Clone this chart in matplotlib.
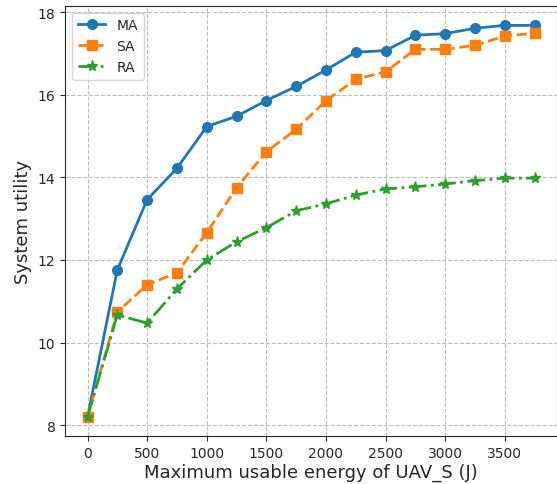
import numpy as np
import matplotlib
matplotlib.use('Agg')
import matplotlib.pyplot as plt

# Datos
energia = [0, 250, 500, 750, 1000, 1250, 1500, 1750, 2000, 2250, 2500, 2750, 3000, 3250, 3500, 3750]
ma = [8.2, 11.76, 13.46, 14.22, 15.23, 15.48, 15.86, 16.2, 16.6, 17.03, 17.07, 17.44, 17.48, 17.61, 17.68, 17.68]
sa = [8.2, 10.74, 11.4, 11.69, 12.66, 13.75, 14.62, 15.16, 15.86, 16.37, 16.56, 17.1, 17.1, 17.2, 17.42, 17.49]
ra = [8.2, 10.67, 10.47, 11.3, 12.0, 12.44, 12.78, 13.19, 13.36, 13.57, 13.72, 13.77, 13.84, 13.92, 13.98, 13.98]

oscuro = '#262626'
plt.rcParams['text.color'] = oscuro
plt.rcParams['axes.labelcolor'] = oscuro
plt.rcParams['xtick.color'] = oscuro
plt.rcParams['ytick.color'] = oscuro
plt.rcParams['axes.edgecolor'] = oscuro

fig, ax = plt.subplots(figsize=(5.57, 4.85), dpi=100)
fig.subplots_adjust(left=0.117, right=1.0, top=0.986, bottom=0.098)

ax.plot(energia, ma, '-o', color='#1f77b4', lw=2, ms=7, label='MA')
ax.plot(energia, sa, '--s', color='#ff7f0e', lw=2, ms=7, label='SA')
ax.plot(energia, ra, '-.*', color='#2ca02c', lw=2, ms=8, label='RA')

ax.set_xlabel('Maximum usable energy of UAV_S (J)', fontsize=13, labelpad=2)
ax.set_ylabel('System utility', fontsize=13)
ax.set_xticks(np.arange(0, 3501, 500))
ax.tick_params(labelsize=10)
ax.grid(True, linestyle='--', color='#bbbbbb')
ax.legend(loc='upper left', fontsize=10)

plt.savefig('out.png', dpi=100)
